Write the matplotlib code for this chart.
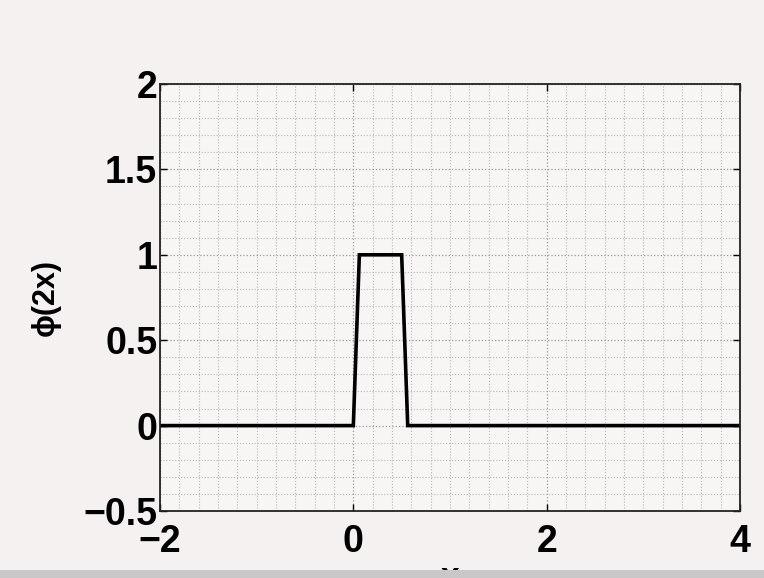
import numpy as np
import matplotlib.pyplot as plt
from matplotlib.patches import Rectangle
from matplotlib.ticker import MultipleLocator

# samples of phi(2x) as drawn
x = [-2.0, 0.0, 0.0625, 0.5, 0.5625, 4.0]
y = [0.0, 0.0, 1.0, 1.0, 0.0, 0.0]
xticks = [-2, 0, 2, 4]
yticks = [-0.5, 0, 0.5, 1, 1.5, 2]
ytick_labels = ['\u22120.5', '0', '0.5', '1', '1.5', '2']
xtick_labels = ['\u22122', '0', '2', '4']

plt.rcParams['font.family'] = ['Liberation Sans', 'DejaVu Sans']

fig = plt.figure(figsize=(7.64, 5.78), dpi=100, facecolor='#f6f1f1')
ax = fig.add_axes([160/764, 1 - 511/578, 580/764, 427/578])
ax.set_facecolor('#f8f5f5')

ax.plot(x, y, color='black', lw=2.6, solid_joinstyle='miter')

ax.set_xlim(-2, 4)
ax.set_ylim(-0.5, 2)
ax.set_xticks(xticks)
ax.set_xticklabels(xtick_labels)
ax.set_yticks(yticks)
ax.set_yticklabels(ytick_labels)
ax.xaxis.set_minor_locator(MultipleLocator(0.2))
ax.yaxis.set_minor_locator(MultipleLocator(0.1))

ax.grid(which='major', linestyle=':', color='#9a9a9a', lw=0.9)
ax.grid(which='minor', linestyle=':', color='#b8b8b8', lw=0.8)
ax.tick_params(which='major', direction='in', length=5, width=1, labelsize=27,
               top=True, right=True)
ax.tick_params(axis='x', which='major', pad=9)
ax.tick_params(axis='y', which='major', pad=2)
ax.tick_params(which='minor', length=0)
for lab in ax.get_xticklabels() + ax.get_yticklabels():
    lab.set_fontweight('bold')
for s in ax.spines.values():
    s.set_linewidth(1.3)
    s.set_color('#222222')

ax.set_ylabel('\u03d5(2x)', fontsize=22, fontweight='bold', labelpad=16)
ax.set_xlabel('x', fontsize=24, fontweight='bold', labelpad=2)

# dark-grey frame edge at the bottom of the screenshot
fig.patches.append(Rectangle((0, 0), 1, 8/578, transform=fig.transFigure,
                             facecolor='#c9c7c7', edgecolor='none', zorder=10))

fig.savefig('out.png', dpi=100, facecolor=fig.get_facecolor())
